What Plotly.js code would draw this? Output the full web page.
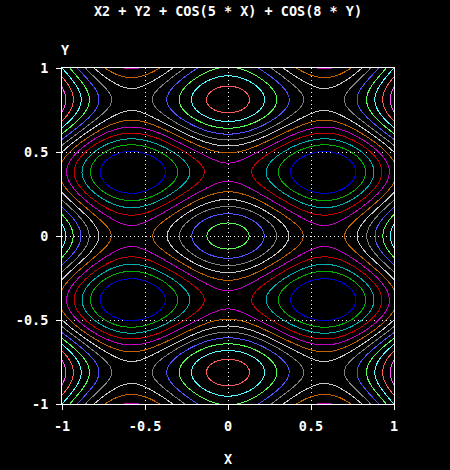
<!DOCTYPE html>
<html>
<head>
<meta charset="utf-8">
<script src="https://cdn.plot.ly/plotly-3.0.1.min.js"></script>
<style>
html,body{margin:0;padding:0;background:#000;}
#chart{width:450px;height:470px;}
#chart svg path{shape-rendering:crispEdges;}
</style>
</head>
<body>
<div id="chart"></div>
<script>
// Title / axis text
var titleText = "X2 + Y2 + COS(5 * X) + COS(8 * Y)";
var xLabel = "X";
var yLabel = "Y";
var tickVals = [-1, -0.5, 0, 0.5, 1];
var tickText = ["-1", "-0.5", "0", "0.5", "1"];
// Contour levels and their line colours
var levels = [-1.013, -0.699, -0.384, -0.070, 0.245, 0.559, 0.874, 1.189, 1.503, 1.818, 2.133, 2.447, 2.762];
var levelColors = ["#0000d0", "#00b000", "#00b0b0", "#c00000", "#c000c0", "#c06000",
                   "#c8c8c8", "#808080", "#5050ff", "#50ff50", "#50ffff", "#ff5a5a", "#ff50ff"];
// Grid of the function named in the title
var nGrid = 81;
var xs = [], ys = [];
for (var i = 0; i < nGrid; i++) { xs.push(-1 + 2 * i / (nGrid - 1)); ys.push(-1 + 2 * i / (nGrid - 1)); }
var zs = ys.map(function (y) {
  return xs.map(function (x) { return x * x + y * y + Math.cos(5 * x) + Math.cos(8 * y); });
});

var traces = levels.map(function (L, k) {
  return {
    type: "contour", x: xs, y: ys, z: zs,
    autocontour: false,
    contours: { start: L, end: L, size: 1, coloring: "none" },
    line: { color: levelColors[k], width: 1, smoothing: 0 },
    showscale: false, hoverinfo: "skip"
  };
});

var font = { family: "DejaVu Sans Mono, monospace", size: 13.5, color: "#ffffff", weight: "bold" };
var axisCommon = {
  range: [-1, 1], tickvals: tickVals, ticktext: tickText,
  showline: true, linecolor: "#ffffff", linewidth: 1, mirror: true,
  ticks: "outside", ticklen: 5, tickcolor: "#ffffff", tickwidth: 1,
  showgrid: true, gridcolor: "#ffffff", gridwidth: 1, griddash: "1px,3px",
  zeroline: false, tickfont: font, layer: "above traces"
};
var layout = {
  width: 450, height: 470,
  paper_bgcolor: "#000000", plot_bgcolor: "#000000",
  margin: { l: 62, r: 56, t: 68, b: 66 },
  showlegend: false,
  font: font,
  title: { text: titleText, font: font, xref: "paper", x: 0.5, xanchor: "center",
           yref: "container", y: 1 - 11 / 470, yanchor: "middle" },
  xaxis: Object.assign({}, axisCommon, { ticklabelstandoff: 5 }),
  yaxis: Object.assign({}, axisCommon, { ticklabelstandoff: 5 }),
  annotations: [
    { text: xLabel, xref: "paper", yref: "paper", x: 0.5, y: -55 / 336, xanchor: "center", yanchor: "middle", showarrow: false, font: font },
    { text: yLabel, xref: "paper", yref: "paper", x: 3 / 332, y: 1 + 18 / 336, xanchor: "center", yanchor: "middle", showarrow: false, font: font }
  ]
};
Plotly.newPlot("chart", traces, layout, { displayModeBar: false, staticPlot: true });
</script>
</body>
</html>
